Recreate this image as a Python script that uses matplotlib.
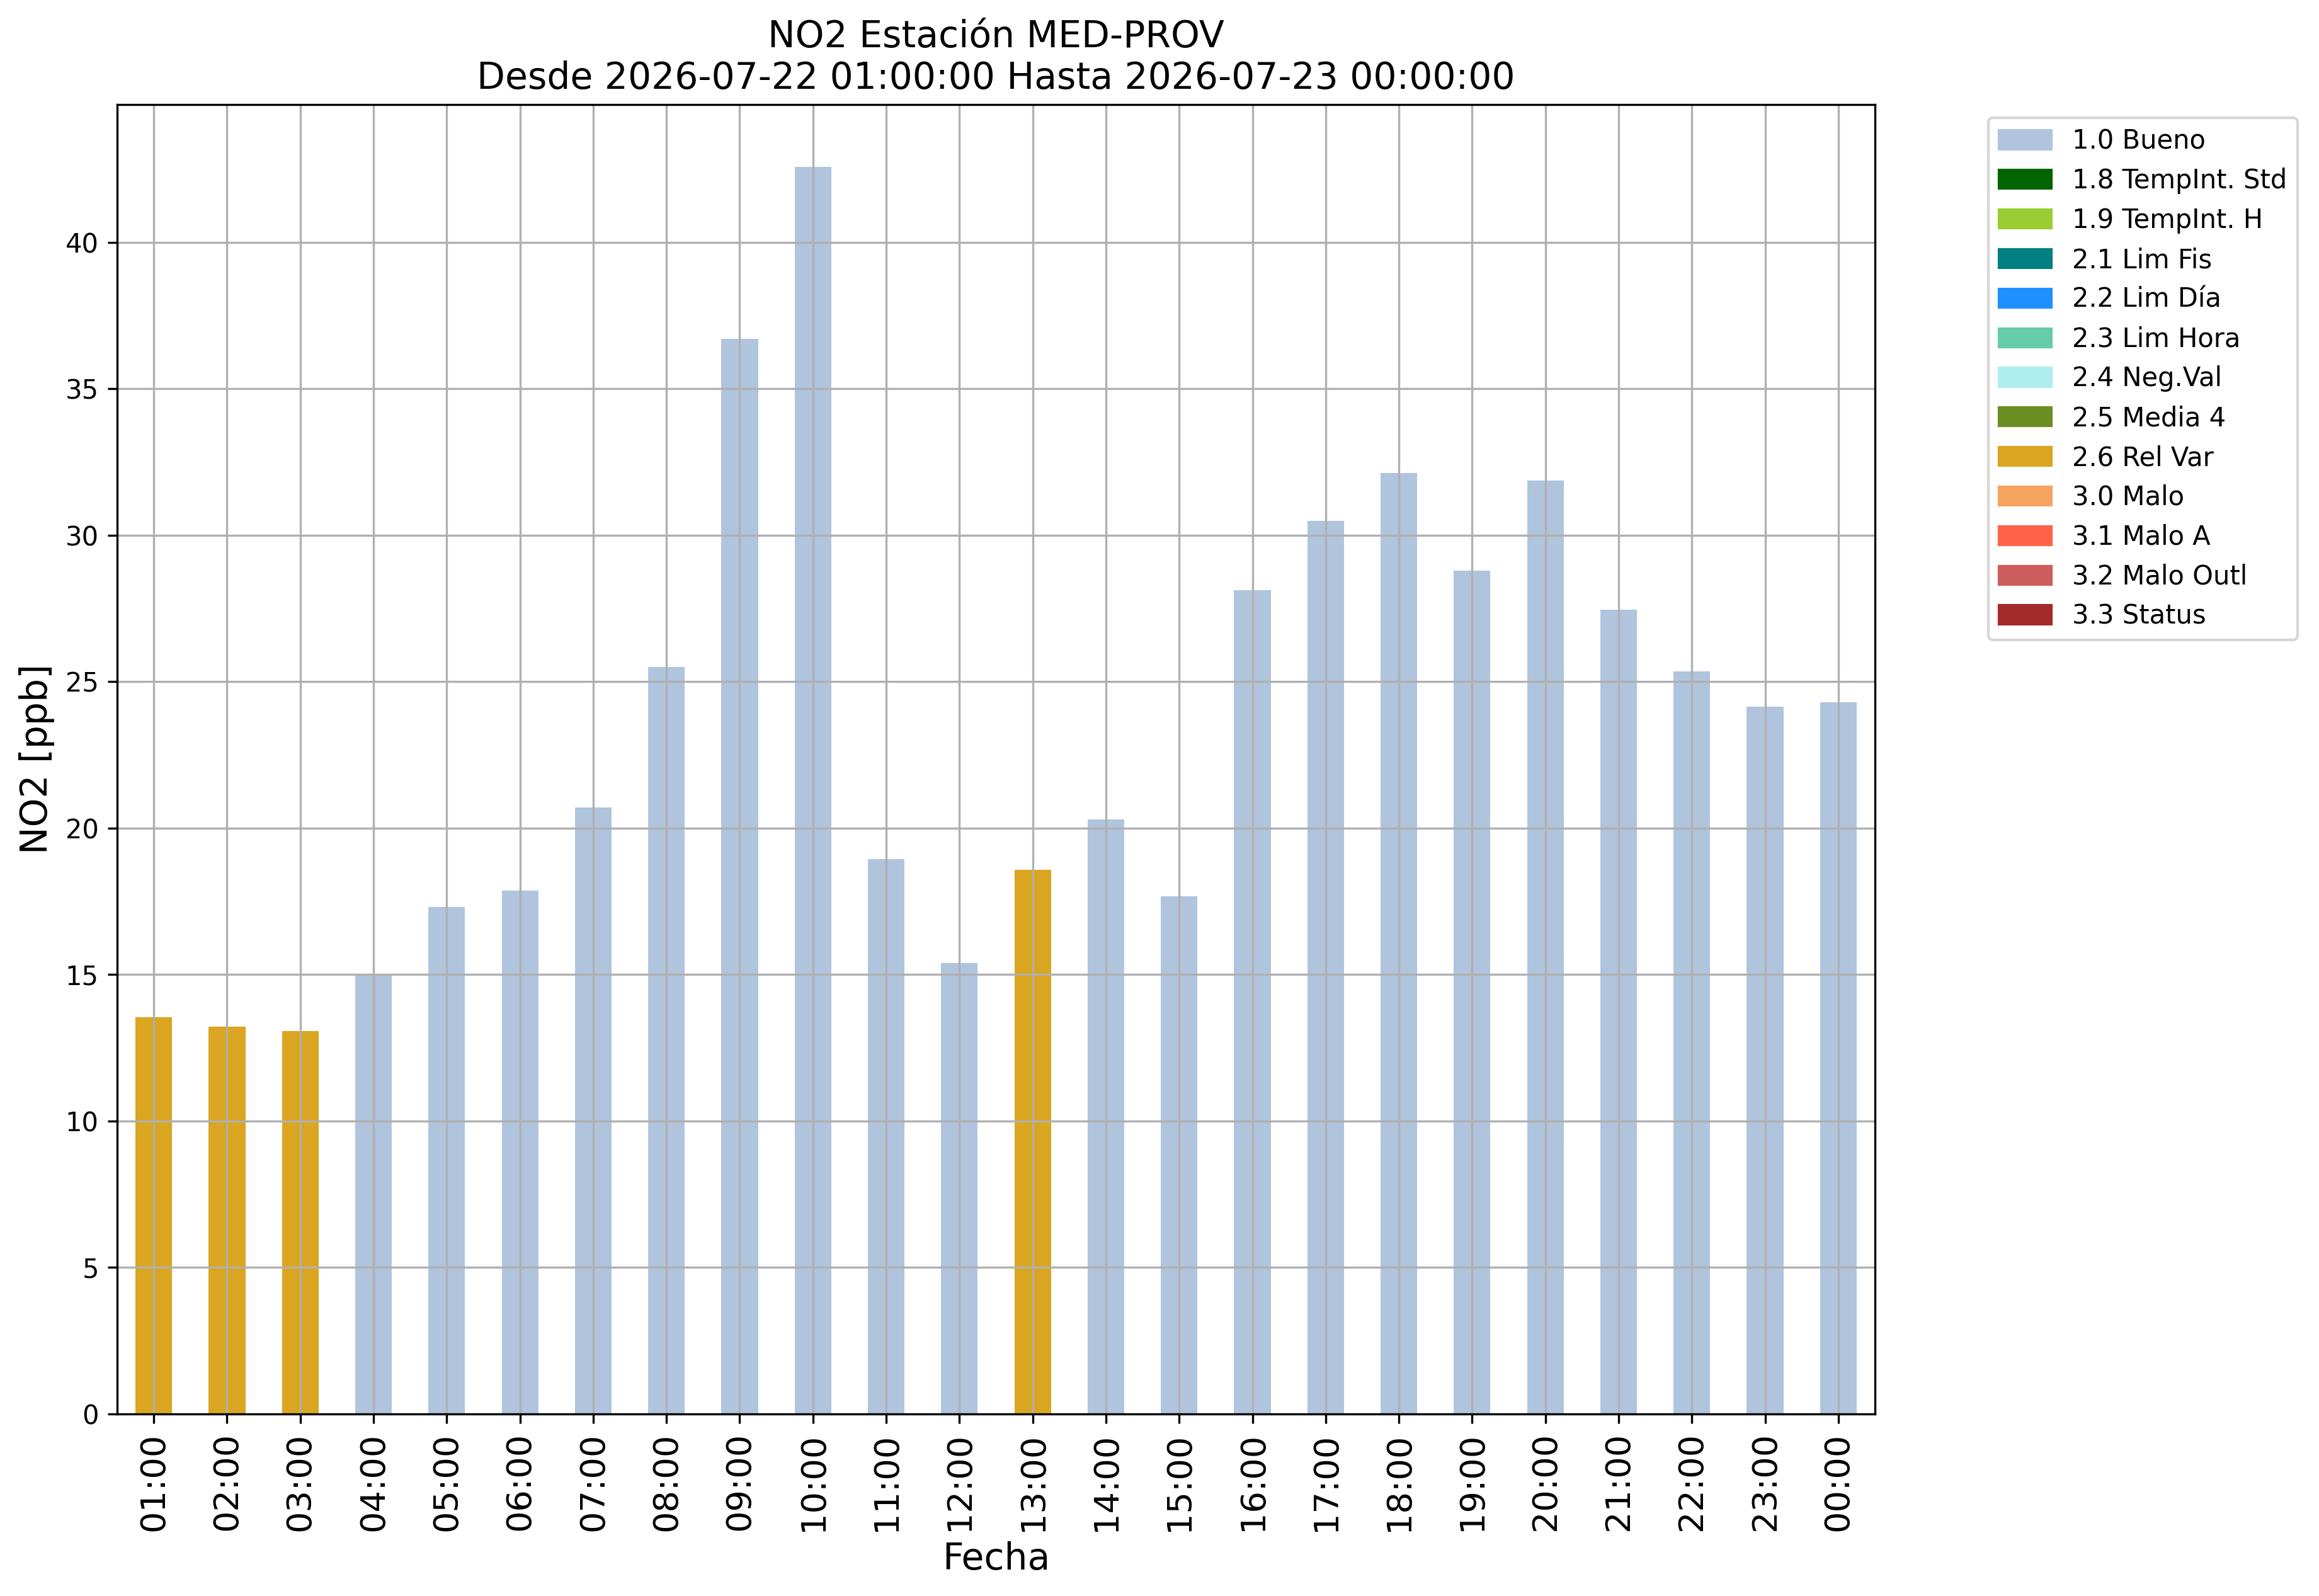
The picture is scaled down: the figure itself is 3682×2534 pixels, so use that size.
import matplotlib
matplotlib.use("Agg")
import matplotlib.pyplot as plt
from matplotlib.patches import Patch

hours = ["01:00", "02:00", "03:00", "04:00", "05:00", "06:00", "07:00", "08:00",
         "09:00", "10:00", "11:00", "12:00", "13:00", "14:00", "15:00", "16:00",
         "17:00", "18:00", "19:00", "20:00", "21:00", "22:00", "23:00", "00:00"]
values = [13.54, 13.23, 13.08, 15.0, 17.32, 17.88, 20.7, 25.5,
          36.7, 42.58, 18.94, 15.4, 18.59, 20.3, 17.68, 28.13,
          30.5, 32.12, 28.79, 31.87, 27.47, 25.35, 24.14, 24.29]
flags = ["2.6 Rel Var", "2.6 Rel Var", "2.6 Rel Var", "1.0 Bueno", "1.0 Bueno", "1.0 Bueno",
         "1.0 Bueno", "1.0 Bueno", "1.0 Bueno", "1.0 Bueno", "1.0 Bueno", "1.0 Bueno",
         "2.6 Rel Var", "1.0 Bueno", "1.0 Bueno", "1.0 Bueno", "1.0 Bueno", "1.0 Bueno",
         "1.0 Bueno", "1.0 Bueno", "1.0 Bueno", "1.0 Bueno", "1.0 Bueno", "1.0 Bueno"]

legend_labels = ["1.0 Bueno", "1.8 TempInt. Std", "1.9 TempInt. H", "2.1 Lim Fis",
                 "2.2 Lim Día", "2.3 Lim Hora", "2.4 Neg.Val", "2.5 Media 4",
                 "2.6 Rel Var", "3.0 Malo", "3.1 Malo A", "3.2 Malo Outl", "3.3 Status"]
legend_colors = ["lightsteelblue", "darkgreen", "yellowgreen", "teal",
                 "dodgerblue", "mediumaquamarine", "paleturquoise", "olivedrab",
                 "goldenrod", "sandybrown", "tomato", "indianred", "brown"]

color_map = dict(zip(legend_labels, legend_colors))
bar_colors = [color_map[f] for f in flags]

fig = plt.figure(figsize=(3682 / 300, 2534 / 300), dpi=300)
ax = fig.add_axes([186 / 3682, 1 - 2245 / 2534, (2977 - 186) / 3682, (2245 - 166) / 2534])

x = list(range(len(hours)))
ax.bar(x, values, width=0.5, color=bar_colors)
ax.set_xlim(-0.5, len(hours) - 0.5)
ax.set_xticks(x)
ax.set_xticklabels(hours, rotation=90, fontsize=13)
ax.tick_params(axis="y", labelsize=10)
ax.grid(True)

ax.set_xlabel("Fecha", fontsize=14)
ax.set_ylabel("NO2 [ppb]", fontsize=14)
ax.set_title("NO2 Estación MED-PROV\nDesde 2026-07-22 01:00:00 Hasta 2026-07-23 00:00:00",
             fontsize=14)

handles = [Patch(color=c, label=l) for l, c in zip(legend_labels, legend_colors)]
ax.legend(handles=handles, bbox_to_anchor=(1.057, 1), loc="upper left", fontsize=10)

fig.savefig("out.png", dpi=300)
